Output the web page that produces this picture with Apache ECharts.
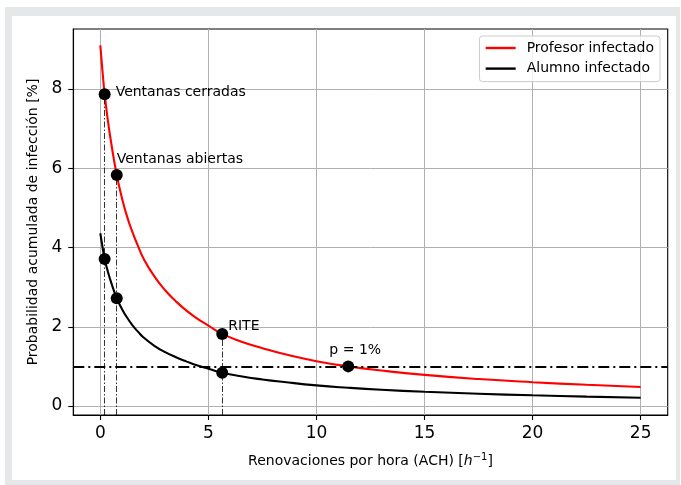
<!DOCTYPE html>
<html>
<head>
<meta charset="utf-8">
<script src="https://cdn.jsdelivr.net/npm/echarts@6/dist/echarts.min.js"></script>
<style>
  html, body { margin: 0; padding: 0; background: #ffffff; }
  #frame { position: absolute; left: 5px; top: 7px; width: 675px; height: 478px; background: #e6e7e9; }
  #card  { position: absolute; left: 12px; top: 16px; width: 664px; height: 464px; background: #ffffff; }
  #chart { position: absolute; left: 0; top: 0; width: 681px; height: 485px; }
</style>
</head>
<body>
<div id="frame"></div>
<div id="card"></div>
<div id="chart"></div>
<script>
// Air changes per hour (ACH) sampled along both curves
const ach      = [0, 0.1, 0.2, 0.35, 0.5, 0.76, 1, 1.25, 1.5, 1.75, 2, 2.5, 3, 3.5, 4, 4.5, 5, 5.64, 6.5, 7.5, 8.5, 10, 11.47, 13, 15, 17.5, 20, 22.5, 25];
// Cumulative infection probability [%] when the teacher is the infected person
const profesor = [9.1, 8.45, 7.87, 7.2, 6.65, 5.83, 5.25, 4.76, 4.37, 4.03, 3.72, 3.27, 2.92, 2.64, 2.4, 2.2, 2.03, 1.82, 1.63, 1.46, 1.31, 1.13, 1.0, 0.895, 0.785, 0.68, 0.6, 0.535, 0.48];
// Cumulative infection probability [%] when a student is the infected person
const alumno   = [4.36, 4.02, 3.71, 3.39, 3.12, 2.72, 2.45, 2.22, 2.03, 1.87, 1.73, 1.52, 1.36, 1.23, 1.12, 1.02, 0.94, 0.84, 0.75, 0.67, 0.605, 0.52, 0.46, 0.41, 0.36, 0.31, 0.27, 0.237, 0.21];

// Highlighted scenarios
const puntosX     = [0.2, 0.76, 0.2, 0.76, 5.64, 5.64, 11.47];
const puntosY     = [7.87, 5.83, 3.71, 2.72, 1.82, 0.84, 1.0];
const puntosTexto = ['Ventanas cerradas', 'Ventanas abiertas', '', '', 'RITE', '', 'p = 1%'];
// Indices of the scenarios that get a vertical guide line
const guias = [0, 1, 4];

// Threshold probability [%]
const umbral = 1;

// Tick values
const xTicks = [0, 5, 10, 15, 20, 25];
const yTicks = [0, 2, 4, 6, 8];

const X_MIN = -1.25, X_MAX = 26.25;
const Y_MIN = -0.227, Y_MAX = 9.514;

const FONT = 'DejaVu Sans';

const labelLayout = {
  'Ventanas cerradas': { position: 'right', distance: 5, offset: [0, -1.5] },
  'Ventanas abiertas': { position: 'right', distance: 0, offset: [-6, -15.5] },
  'RITE':              { position: 'right', distance: 0, offset: [0, -8] },
  'p = 1%':            { position: 'top',   distance: 3, offset: [7, 0] }
};

const puntos = puntosX.map((x, i) => {
  const txt = puntosTexto[i];
  const item = { value: [x, puntosY[i]], name: txt };
  if (txt) {
    item.label = Object.assign({
      show: true,
      formatter: txt,
      color: '#000',
      fontFamily: FONT,
      fontSize: 14
    }, labelLayout[txt]);
  } else {
    item.label = { show: false };
  }
  return item;
});

const guiaLines = guias.map(i => [
  { coord: [puntosX[i], Y_MIN] },
  { coord: [puntosX[i], puntosY[i]] }
]);

const chart = echarts.init(document.getElementById('chart'), null, { renderer: 'canvas' });

const option = {
  backgroundColor: 'transparent',
  animation: false,
  grid: {
    left: 73.3, top: 29, width: 594.4, height: 386,
    show: true, borderColor: '#000', borderWidth: 1.1, backgroundColor: 'transparent'
  },
  legend: {
    right: 21, top: 36,
    orient: 'vertical',
    itemWidth: 30, itemHeight: 14, itemGap: 6.6,
    padding: [5, 6, 6, 5],
    backgroundColor: 'rgba(255,255,255,0.8)',
    borderColor: '#cccccc', borderWidth: 1, borderRadius: 3,
    itemStyle: { opacity: 0, borderWidth: 0 },
    lineStyle: { width: 2.4 },
    textStyle: { fontFamily: FONT, fontSize: 14, color: '#000', padding: [0, 0, 0, 6] },
    data: ['Profesor infectado', 'Alumno infectado']
  },
  xAxis: {
    type: 'value',
    min: X_MIN, max: X_MAX,
    name: 'Renovaciones por hora (ACH) [{i|h}{sup|−1}]',
    nameLocation: 'middle',
    nameGap: 37,
    nameTextStyle: {
      fontFamily: FONT, fontSize: 14, color: '#000',
      rich: {
        i:   { fontFamily: FONT, fontSize: 14, fontStyle: 'italic', color: '#000' },
        sup: { fontFamily: FONT, fontSize: 10, color: '#000', padding: [0, 0, 8, 0] }
      }
    },
    axisLine: { show: true, onZero: false, lineStyle: { color: '#000', width: 1.1 } },
    axisTick: { show: true, length: 5, inside: false, customValues: xTicks, lineStyle: { color: '#000', width: 1.1 } },
    axisLabel: { show: true, margin: 10, customValues: xTicks, fontFamily: FONT, fontSize: 17, color: '#000' },
    splitLine: { show: true, lineStyle: { color: '#b0b0b0', width: 1 } }
  },
  yAxis: {
    type: 'value',
    min: Y_MIN, max: Y_MAX,
    name: 'Probabilidad acumulada de infección [%]',
    nameLocation: 'middle',
    nameGap: 31,
    nameTextStyle: { fontFamily: FONT, fontSize: 14, color: '#000' },
    axisLine: { show: true, onZero: false, lineStyle: { color: '#000', width: 1.1 } },
    axisTick: { show: true, length: 5, inside: false, customValues: yTicks, lineStyle: { color: '#000', width: 1.1 } },
    axisLabel: { show: true, margin: 11, customValues: yTicks, fontFamily: FONT, fontSize: 17, color: '#000' },
    splitLine: { show: true, lineStyle: { color: '#b0b0b0', width: 1 } }
  },
  series: [
    {
      name: 'Profesor infectado',
      type: 'line',
      data: ach.map((x, i) => [x, profesor[i]]),
      symbol: 'none',
      smooth: 0.5,
      lineStyle: { color: '#ff0000', width: 2.1 },
      itemStyle: { color: '#ff0000' },
      z: 3
    },
    {
      name: 'Alumno infectado',
      type: 'line',
      data: ach.map((x, i) => [x, alumno[i]]),
      symbol: 'none',
      smooth: 0.5,
      lineStyle: { color: '#000000', width: 2.1 },
      itemStyle: { color: '#000000' },
      z: 3,
      markLine: {
        silent: true,
        symbol: ['none', 'none'],
        label: { show: false },
        data: [
          { yAxis: umbral, lineStyle: { color: '#000', width: 2.1, type: [11, 4, 2, 4] } }
        ]
      }
    },
    {
      name: 'Escenarios',
      type: 'scatter',
      data: puntos,
      symbol: 'circle',
      symbolSize: 12,
      itemStyle: { color: '#000', opacity: 1 },
      z: 5,
      markLine: {
        silent: true,
        symbol: ['none', 'none'],
        label: { show: false },
        lineStyle: { color: '#000', width: 0.8, type: [6, 2, 1.5, 2] },
        data: guiaLines
      }
    }
  ]
};

chart.setOption(option);
</script>
</body>
</html>
